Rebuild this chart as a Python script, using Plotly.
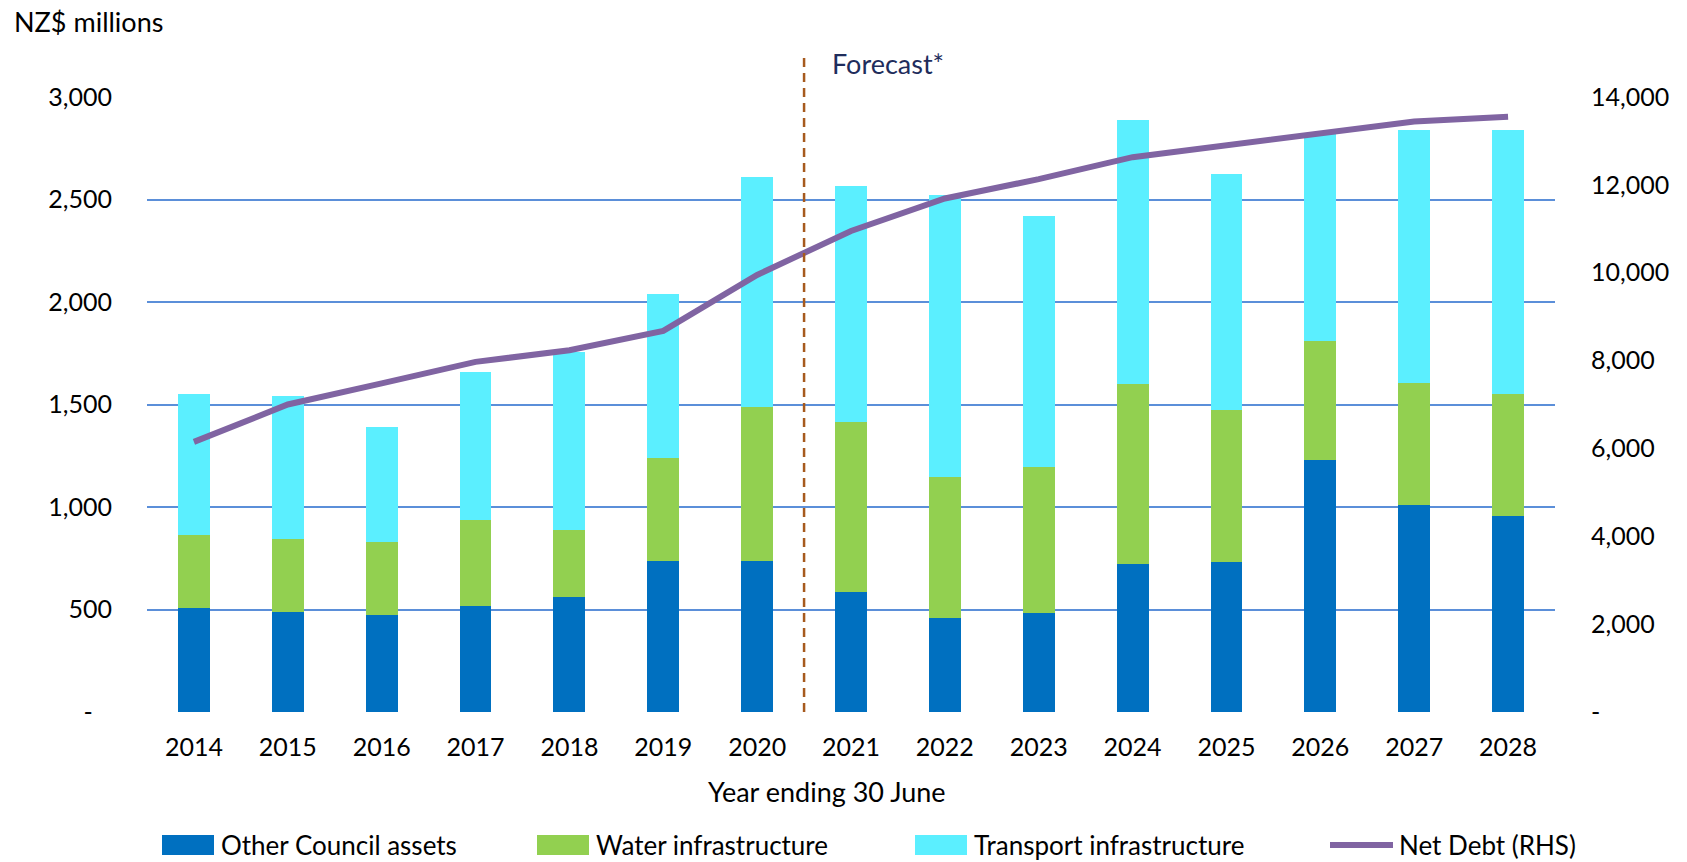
import plotly.graph_objects as go

years = ["2014", "2015", "2016", "2017", "2018", "2019", "2020", "2021",
         "2022", "2023", "2024", "2025", "2026", "2027", "2028"]
other_council = [505, 489, 473, 517, 562, 739, 739, 583, 461, 482, 721, 730, 1228, 1010, 956]
water_infra = [357, 353, 358, 419, 326, 500, 749, 832, 683, 711, 880, 745, 583, 595, 594]
transport_infra = [689, 699, 557, 724, 869, 800, 1122, 1151, 1376, 1227, 1286, 1151, 1009, 1233, 1290]
net_debt = [6150, 7000, 7480, 7970, 8235, 8675, 9950, 10950, 11690, 12130, 12630, 12900, 13200, 13440, 13550]

series_names = ["Other Council assets", "Water infrastructure", "Transport infrastructure", "Net Debt (RHS)"]
series_colors = ["#0070C0", "#92D050", "#5BEFFF", "#8064A2"]

left_ticks = [0, 500, 1000, 1500, 2000, 2500, 3000]
left_labels = ["-   ", "500", "1,000", "1,500", "2,000", "2,500", "3,000"]
right_ticks = [0, 2000, 4000, 6000, 8000, 10000, 12000, 14000]
right_labels = ["-", "2,000", "4,000", "6,000", "8,000", "10,000", "12,000", "14,000"]

FONT = "Lato"
TICK_FS = 25
TEXT_FS = 27
LEG_FS = 26

# plot area in pixels
W, H = 1687, 862
PL, PR, PT, PB = 147, 1555, 97, 712


def px_x(x):
    return (x - PL) / (PR - PL)


def px_y(y):
    return (PB - y) / (PB - PT)


fig = go.Figure()
for vals, name, col in zip([other_council, water_infra, transport_infra], series_names[:3], series_colors[:3]):
    fig.add_trace(go.Bar(x=years, y=vals, name=name, showlegend=False,
                         marker=dict(color=col, line=dict(width=0))))
fig.add_trace(go.Scatter(x=years, y=net_debt, name=series_names[3], yaxis="y2", showlegend=False,
                         mode="lines", line=dict(color=series_colors[3], width=6)))

fig.update_layout(
    width=W, height=H,
    barmode="stack", bargap=0.66,
    paper_bgcolor="white", plot_bgcolor="white",
    font=dict(family=FONT, size=TICK_FS, color="#000000"),
    margin=dict(l=PL, r=W - PR, t=PT, b=H - PB, autoexpand=False),
    xaxis=dict(type="category", showgrid=False, showline=False, zeroline=False,
               ticks="outside", ticklen=13, tickcolor="rgba(0,0,0,0)",
               tickfont=dict(size=TICK_FS)),
    yaxis=dict(range=[0, 3000], tickvals=left_ticks, ticktext=left_labels,
               showgrid=True, gridcolor="#5B8FD9", gridwidth=2,
               zeroline=False, showline=False,
               ticks="outside", ticklen=29, tickcolor="rgba(0,0,0,0)"),
    yaxis2=dict(range=[0, 14000], tickvals=right_ticks, ticktext=right_labels,
                overlaying="y", side="right", showgrid=False, zeroline=False,
                showline=False, ticks="outside", ticklen=30,
                tickcolor="rgba(0,0,0,0)"),
    showlegend=False,
)

# forecast divider
fig.add_shape(type="line", xref="x", yref="paper", x0=6.5, x1=6.5, y0=0, y1=px_y(57),
              line=dict(color="#A65A1E", width=2.5, dash="9px,6px"))
fig.add_annotation(xref="paper", yref="paper", x=px_x(830), y=px_y(63),
                   xanchor="left", yanchor="middle", showarrow=False,
                   text="Forecast*", font=dict(size=TEXT_FS, color="#1F2D5C"))
fig.add_annotation(xref="paper", yref="paper", x=px_x(12), y=px_y(21),
                   xanchor="left", yanchor="middle", showarrow=False,
                   text="NZ$ millions", font=dict(size=TEXT_FS, color="#000000"))
fig.add_annotation(xref="paper", yref="paper", x=px_x(827), y=px_y(791),
                   xanchor="center", yanchor="middle", showarrow=False,
                   text="Year ending 30 June", font=dict(size=TEXT_FS, color="#000000"))

# legend (drawn as swatches + labels below the plot)
LEG_Y = 845
swatch_x = [162, 537, 915, 1340]
for i, (name, col) in enumerate(zip(series_names, series_colors)):
    x0 = swatch_x[i]
    x1 = x0 + 52
    if i < 3:
        fig.add_shape(type="rect", xref="paper", yref="paper",
                      x0=px_x(x0), x1=px_x(x1), y0=px_y(LEG_Y + 10), y1=px_y(LEG_Y - 10),
                      fillcolor=col, line=dict(width=0))
    else:
        fig.add_shape(type="line", xref="paper", yref="paper",
                      x0=px_x(x0 - 10), x1=px_x(x1 + 1), y0=px_y(LEG_Y), y1=px_y(LEG_Y),
                      line=dict(color=col, width=6))
    fig.add_annotation(xref="paper", yref="paper", x=px_x(x1 + 5), y=px_y(LEG_Y),
                       xanchor="left", yanchor="middle", showarrow=False,
                       text=name, font=dict(size=LEG_FS, color="#000000"))

fig.write_html(
    "out.html",
    config={"displayModeBar": False},
    post_script="document.body.style.margin='0';"
                "document.body.style.overflow='hidden';"
                "document.documentElement.style.overflow='hidden';",
)
